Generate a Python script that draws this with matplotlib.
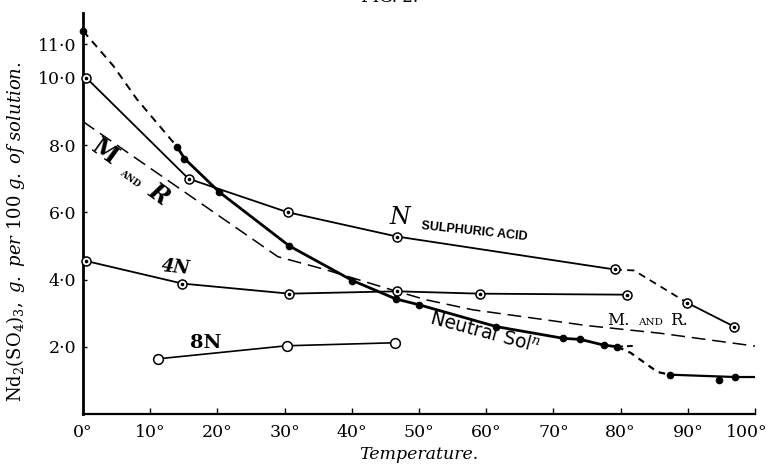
import matplotlib
matplotlib.use("Agg")
import matplotlib.pyplot as plt
import matplotlib.transforms as mtransforms

# temperatures (deg C) and solubility (g Nd2(SO4)3 per 100 g solution)

# neutral solution, filled dots
neutral_top_t = [0, 4.5, 8, 14]
neutral_top_s = [11.4, 10.36, 9.37, 7.95]
neutral_t = [14, 15.1, 20.3, 30.7, 40.1, 46.6, 50, 61.5, 71.5, 74, 77.5, 79.5]
neutral_s = [7.95, 7.6, 6.6, 5.0, 3.97, 3.42, 3.25, 2.6, 2.25, 2.22, 2.05, 2.0]
neutral_ext_t = [79.5, 82.2]
neutral_ext_s = [2.0, 2.03]
neutral_drop_t = [79.5, 81.5, 83.6, 85.5, 87.3]
neutral_drop_s = [2.0, 1.82, 1.52, 1.25, 1.17]
neutral_hot_t = [87.3, 97, 100]
neutral_hot_s = [1.17, 1.1, 1.1]
neutral_dots_t = [0, 14, 15.1, 20.3, 30.7, 40.1, 46.6, 50, 61.5, 71.5, 74, 77.5, 79.5, 87.3, 94.7, 97]
neutral_dots_s = [11.4, 7.95, 7.6, 6.6, 5.0, 3.97, 3.42, 3.25, 2.6, 2.25, 2.22, 2.05, 2.0, 1.17, 1.0, 1.1]

# N sulphuric acid
acid_t = [0.5, 15.7, 30.5, 46.7, 79.1]
acid_s = [10.0, 7.0, 6.0, 5.28, 4.3]
acid_dash_t = [79.1, 82.0, 89.9]
acid_dash_s = [4.3, 4.27, 3.31]
acid_hot_t = [89.9, 96.9]
acid_hot_s = [3.31, 2.6]

# 4N acid
n4_t = [0.5, 14.8, 30.7, 46.7, 59.1, 81]
n4_s = [4.55, 3.88, 3.58, 3.65, 3.58, 3.55]

# 8N acid
n8_t = [11.1, 30.3, 46.5]
n8_s = [1.64, 2.03, 2.12]

# M and R (neutral)
mr_t = [0, 29, 36, 45, 51, 58, 66, 75, 86, 100]
mr_s = [8.7, 4.68, 4.3, 3.75, 3.4, 3.1, 2.88, 2.63, 2.4, 2.02]

xticks = [0, 10, 20, 30, 40, 50, 60, 70, 80, 90, 100]
xlabels = ["0°", "10°", "20°", "30°", "40°", "50°", "60°", "70°", "80°", "90°", "100°"]
yticks = [2, 4, 6, 8, 10, 11]
ylabels = ["2·0", "4·0", "6·0", "8·0", "10·0", "11·0"]


def open_circles(ax, t, s, centre=True, size=6.5):
    ax.plot(t, s, ls="none", marker="o", ms=size, mfc="white", mec="black", mew=1.1,
            zorder=5, clip_on=False)
    if centre:
        ax.plot(t, s, ls="none", marker="o", ms=1.6, mfc="black", mec="black",
                zorder=6, clip_on=False)


def main():
    plt.rcParams["font.family"] = "DejaVu Serif"
    plt.rcParams["mathtext.fontset"] = "dejavuserif"

    fig = plt.figure(figsize=(7.71, 4.71), dpi=100)
    ax = fig.add_axes([83 / 771, 1 - 414 / 471, (755 - 83) / 771, (414 - 13) / 471])

    # M and R
    ax.plot(mr_t, mr_s, color="black", lw=1.1, dashes=(9, 4.5))

    # neutral solution
    ax.plot(neutral_top_t, neutral_top_s, color="black", lw=1.4, dashes=(4, 3))
    ax.plot(neutral_t, neutral_s, color="black", lw=2.0)
    ax.plot(neutral_ext_t, neutral_ext_s, color="black", lw=1.4, dashes=(3, 2))
    ax.plot(neutral_drop_t, neutral_drop_s, color="black", lw=1.6, dashes=(3, 2.5))
    ax.plot(neutral_hot_t, neutral_hot_s, color="black", lw=1.6)
    ax.plot(neutral_dots_t, neutral_dots_s, ls="none", marker="o", ms=4.5, color="black",
            zorder=6, clip_on=False)

    # N sulphuric acid
    ax.plot(acid_t, acid_s, color="black", lw=1.3)
    ax.plot(acid_dash_t, acid_dash_s, color="black", lw=1.3, dashes=(4, 3))
    ax.plot(acid_hot_t, acid_hot_s, color="black", lw=1.3)
    open_circles(ax, acid_t + acid_hot_t, acid_s + acid_hot_s)

    # 4N
    ax.plot(n4_t, n4_s, color="black", lw=1.3)
    open_circles(ax, n4_t, n4_s)

    # 8N
    ax.plot(n8_t, n8_s, color="black", lw=1.2)
    open_circles(ax, n8_t, n8_s, centre=False, size=7)

    # labels on curves
    ax.text(3.3, 7.8, "M", fontsize=17, fontweight="bold", rotation=-36,
            ha="center", va="center")
    ax.text(6.9, 7.0, "AND", fontsize=6.5, fontweight="bold", rotation=-36,
            ha="center", va="center")
    ax.text(11.2, 6.55, "R", fontsize=17, fontweight="bold", style="italic", rotation=-36,
            ha="center", va="center")
    ax.text(47.2, 5.85, "N", fontsize=17, style="italic", ha="center", va="center")
    ax.text(58.3, 5.42, "SULPHURIC ACID", family="Liberation Sans", fontsize=9,
            fontweight="bold", rotation=-6, ha="center", va="center")
    ax.text(13.8, 4.35, "4N", fontsize=13, fontweight="bold", style="italic",
            rotation=-6, ha="center", va="center")
    ax.text(18.3, 2.1, "8N", fontsize=14, fontweight="bold", ha="center", va="center")
    ax.text(59.8, 2.42, "Neutral Sol$^{n}$", family="DejaVu Sans", fontsize=13.5,
            rotation=-15, ha="center", va="center")
    ax.text(78.0, 2.66, "M.", fontsize=12, ha="left", va="baseline")
    ax.text(82.6, 2.66, "AND", fontsize=7.5, ha="left", va="baseline")
    ax.text(87.3, 2.66, "R.", fontsize=12, ha="left", va="baseline")

    ax.set_xlim(0, 100)
    ax.set_ylim(0, 11.93)
    ax.set_xticks(xticks)
    ax.set_xticklabels(xlabels, fontsize=12.5)
    ax.set_yticks(yticks)
    ax.set_yticklabels(ylabels, fontsize=12.5)
    ax.tick_params(axis="x", direction="in", length=4, width=1, pad=7)
    ax.tick_params(axis="y", direction="in", length=3, width=1, pad=5)

    # the last label sits a little left of its tick, as in the print
    last = ax.get_xticklabels()[-1]
    last.set_transform(last.get_transform() +
                       mtransforms.ScaledTranslation(-8 / 100, 0, fig.dpi_scale_trans))

    for side in ["top", "right"]:
        ax.spines[side].set_visible(False)
    ax.spines["left"].set_linewidth(2.0)
    ax.spines["bottom"].set_linewidth(1.6)

    ax.set_xlabel("Temperature.", fontsize=12.5, style="italic", labelpad=4)
    ax.set_ylabel(r"$\mathrm{Nd_2(SO_4)_3},\ \mathit{g.\ per}\ \mathrm{100}\ \mathit{g.\ of\ solution.}$",
                  fontsize=13)
    ax.yaxis.set_label_coords(-0.084, 0.455)

    fig.text(0.505, 1 - 1.5 / 471, "FIG. 2.", fontsize=12, ha="center", va="baseline")

    fig.savefig("out.png", dpi=100)


if __name__ == "__main__":
    main()
